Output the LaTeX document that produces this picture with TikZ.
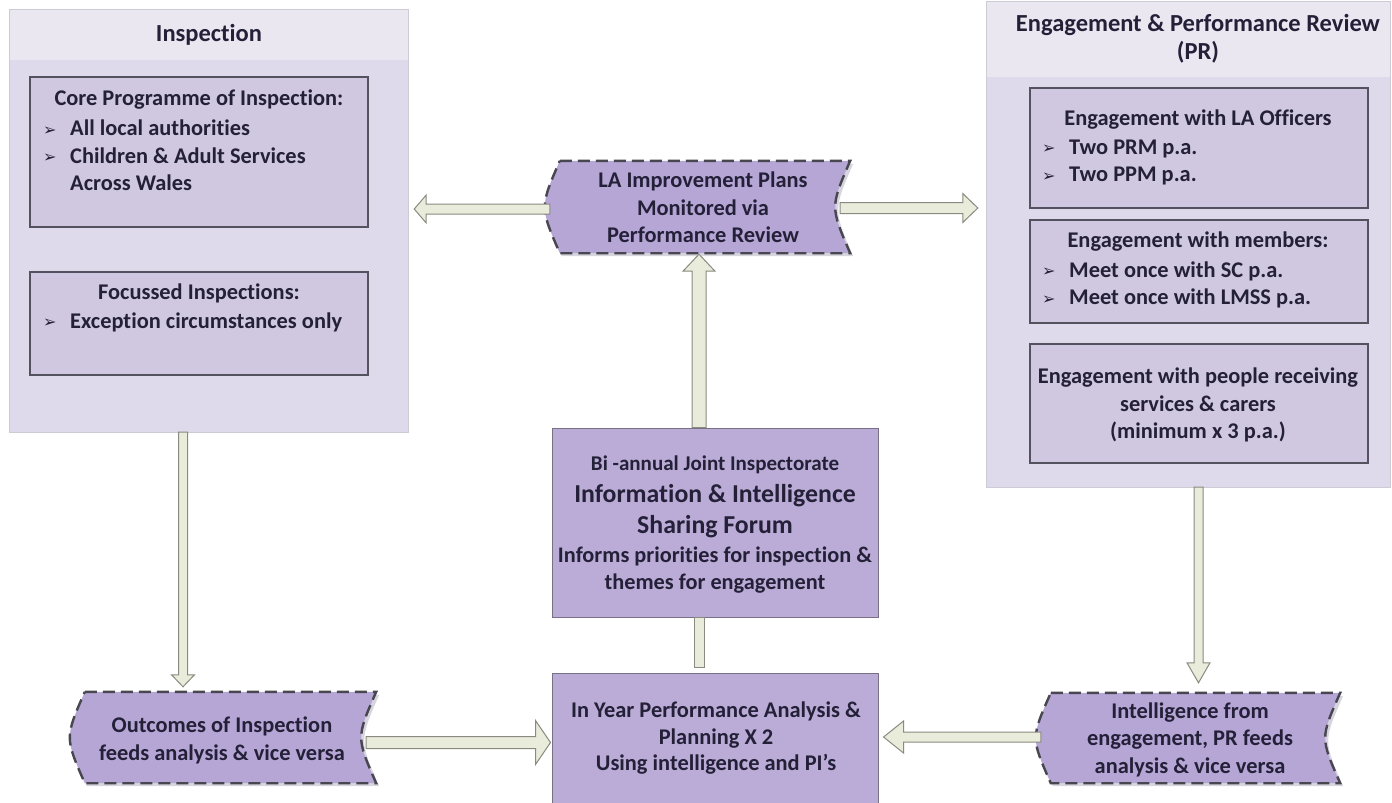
\documentclass[tikz,border=0pt]{standalone}
\usepackage{fontspec}
\setmainfont{Carlito}[Ligatures=NoCommon]
\newfontfamily\symfont{DejaVu Sans}
\usetikzlibrary{calc,backgrounds}
\definecolor{panelfill}{RGB}{223,218,235}
\definecolor{headfill}{RGB}{234,231,241}
\definecolor{panelline}{RGB}{205,203,212}
\definecolor{innerfill}{RGB}{208,199,224}
\definecolor{innerline}{RGB}{85,82,95}
\definecolor{sdfill}{RGB}{181,166,214}
\definecolor{sdline}{RGB}{72,70,78}
\definecolor{boxfill}{RGB}{186,172,214}
\definecolor{boxline}{RGB}{120,112,135}
\definecolor{arrfill}{RGB}{233,235,219}
\definecolor{arrline}{RGB}{138,138,128}
\definecolor{txtcol}{RGB}{36,32,56}
\definecolor{shadowcol}{RGB}{215,213,222}
\tikzset{
  panel/.style={fill=panelfill, draw=none, inner sep=0},
  inbox/.style={fill=innerfill, draw=innerline, line width=1.2pt, inner sep=0},
  cbox/.style={fill=boxfill, draw=boxline, line width=1pt, inner sep=0},
  sdnode/.style={inner sep=0},
  sdstyle/.style={fill=sdfill, draw=sdline, line width=2.4pt, dash pattern=on 12pt off 6pt},
  txt/.style={font=\bfseries\fontsize{22.4}{27.5}\selectfont, text=txtcol, inner sep=0, align=center},
  ttl/.style={font=\bfseries\fontsize{24.5}{28}\selectfont, text=txtcol, inner sep=0, align=center},
  lst/.style={txt, align=left, anchor=west},
  arrowstyle/.style={fill=arrfill, draw=arrline, line width=1pt, line join=miter},
}
\newcommand\bul{\makebox[27pt][l]{\raisebox{0.5pt}{\symfont\fontsize{16}{16}\selectfont ➢}}}
\newcommand\blockarrow[5]{%
  \coordinate (ba-h) at ($(#2)!#5!(#1)$);
  \draw[arrowstyle] ($(#1)!#3!90:(#2)$) -- ($(ba-h)!#3!-90:(#1)$) -- ($(ba-h)!#4!-90:(#1)$) -- (#2) -- ($(ba-h)!#4!90:(#1)$) -- ($(ba-h)!#3!90:(#1)$) -- ($(#1)!#3!-90:(#2)$) -- cycle;}
\newcommand\sdshape[1]{%
  \fill[shadowcol] ([shift={(12pt,-3pt)}]#1.north west) -- ([shift={(3pt,-3pt)}]#1.north east) .. controls ([shift={(-17pt,-3pt)}]#1.east) .. ([shift={(3pt,-3pt)}]#1.south east) -- ([shift={(12pt,-3pt)}]#1.south west) .. controls ([shift={(-8pt,-3pt)}]#1.west) .. ([shift={(12pt,-3pt)}]#1.north west) -- cycle;
  \draw[sdstyle] ([xshift=10pt]#1.north west) -- (#1.north east) .. controls ([xshift=-20pt]#1.east) .. (#1.south east) -- ([xshift=10pt]#1.south west) .. controls ([xshift=-10pt]#1.west) .. ([xshift=10pt]#1.north west) -- cycle;}
\begin{document}
\begin{tikzpicture}[x=1pt,y=-1pt]
\useasboundingbox (0,0) rectangle (1392,803);
% ---------- Inspection panel
\node[panel, minimum width=398pt, minimum height=422pt] (insp) at (209,221) {};
\fill[headfill] (insp.north west) rectangle ($(insp.north east)+(0,50)$);
\draw[panelline, line width=1pt] (insp.north west) rectangle (insp.south east);
\node[ttl] (insptitle) at (209,35) {Inspection};
\node[inbox, minimum width=338pt, minimum height=150pt] (core) at (199,152) {};
\node[txt] (corehead) at (199,100) {Core Programme of Inspection:};
\node[lst] (corelist) at (43,155.5) {\bul All local authorities\\\bul Children \& Adult Services\\\hspace*{27pt}Across Wales};
\node[inbox, minimum width=338pt, minimum height=103pt] (focus) at (199,323.5) {};
\node[txt] (focushead) at (199,293) {Focussed Inspections:};
\node[lst] (focuslist) at (43,322) {\bul Exception circumstances only};
% ---------- Engagement panel
\node[panel, minimum width=403pt, minimum height=485pt] (epr) at (1188.5,244.5) {};
\fill[headfill] (epr.north west) rectangle ($(epr.north east)+(0,75)$);
\draw[panelline, line width=1pt] (epr.north west) rectangle (epr.south east);
\node[ttl] (eprtitle) at (1198,39) {Engagement \& Performance Review\\(PR)};
\node[inbox, minimum width=338pt, minimum height=120pt] (offi) at (1199,148) {};
\node[txt] (offihead) at (1198,120) {Engagement with LA Officers};
\node[lst] (offilist) at (1042,162.5) {\bul Two PRM p.a.\\\bul Two PPM p.a.};
\node[inbox, minimum width=338pt, minimum height=103pt] (memb) at (1199,271.5) {};
\node[txt] (membhead) at (1198,242) {Engagement with members:};
\node[lst] (memblist) at (1042,285) {\bul Meet once with SC p.a.\\\bul Meet once with LMSS p.a.};
\node[inbox, minimum width=338pt, minimum height=119pt] (peop) at (1199,403.5) {};
\node[txt] (peoptext) at (1198,405) {Engagement with people receiving\\services \& carers\\(minimum x 3 p.a.)};
% ---------- centre boxes
\node[cbox, minimum width=326pt, minimum height=189pt] (forum) at (715,522.5) {};
\node[txt, font=\bfseries\fontsize{21}{27}\selectfont] (forum1) at (715,465) {Bi -annual Joint Inspectorate};
\node[txt, font=\bfseries\fontsize{25.8}{31}\selectfont] (forum2) at (715,511) {Information \& Intelligence\\Sharing Forum};
\node[txt, font=\bfseries\fontsize{22.3}{26.5}\selectfont] (forum3) at (715,570) {Informs priorities for inspection \&\\themes for engagement};
\node[cbox, minimum width=326pt, minimum height=140pt] (inyear) at (715,743) {};
\node[txt, font=\bfseries\fontsize{22.4}{26.5}\selectfont] (inyeartext) at (716,738.5) {In Year Performance Analysis \&\\Planning X 2\\Using intelligence and PI’s};
% ---------- stored-data shapes
\node[sdnode, minimum width=300pt, minimum height=92pt] (plans) at (700,207) {};
\node[sdnode, minimum width=301pt, minimum height=91pt] (outc) at (225.5,737.5) {};
\node[sdnode, minimum width=299pt, minimum height=90pt] (intel) at (1190.5,738) {};
\begin{pgfonlayer}{background}
\sdshape{plans}
\sdshape{outc}
\sdshape{intel}
\end{pgfonlayer}
\node[txt] (planstext) at (703,207.5) {LA Improvement Plans\\Monitored via\\Performance Review};
\node[txt] (outctext) at (222,740.5) {Outcomes of Inspection\\feeds analysis \& vice versa};
\node[txt] (inteltext) at (1190,739.5) {Intelligence from\\engagement, PR feeds\\analysis \& vice versa};
% ---------- arrows
\coordinate (a1s) at ($(plans.west)+(0,2)$);
\coordinate (a1e) at ($(insp.east |- plans.west)+(6,2)$);
\blockarrow{a1s}{a1e}{5pt}{14pt}{12pt}
\coordinate (a2s) at ($(plans.east)+(-10,1)$);
\coordinate (a2e) at ($(epr.west |- plans.east)+(-9,1)$);
\blockarrow{a2s}{a2e}{5.5pt}{14.5pt}{15pt}
\coordinate (a3s) at ($(forum.north)+(-16,0)$);
\coordinate (a3e) at ($(plans.south)+(-1,1)$);
\blockarrow{a3s}{a3e}{7pt}{16pt}{17pt}
\draw[arrowstyle] ($(forum.south)+(-21,0)$) rectangle ($(inyear.north)+(-11,-5)$);
\coordinate (a4s) at ($(insp.south)+(-26,0)$);
\coordinate (a4e) at ($(a4s |- outc.north)+(0,-5)$);
\blockarrow{a4s}{a4e}{4.5pt}{11.5pt}{12pt}
\coordinate (a5s) at ($(epr.south)+(10,0)$);
\coordinate (a5e) at ($(a5s |- intel.north)+(0,-10)$);
\blockarrow{a5s}{a5e}{4.5pt}{11.5pt}{20pt}
\coordinate (a6s) at ($(outc.east)+(-10,5)$);
\coordinate (a6e) at ($(inyear.west |- a6s)+(-1,0)$);
\blockarrow{a6s}{a6e}{6pt}{22pt}{15pt}
\coordinate (a7s) at ($(intel.west)+(0,-1)$);
\coordinate (a7e) at ($(inyear.east |- a7s)+(5,0)$);
\blockarrow{a7s}{a7e}{5pt}{16pt}{20pt}
\end{tikzpicture}
\end{document}
